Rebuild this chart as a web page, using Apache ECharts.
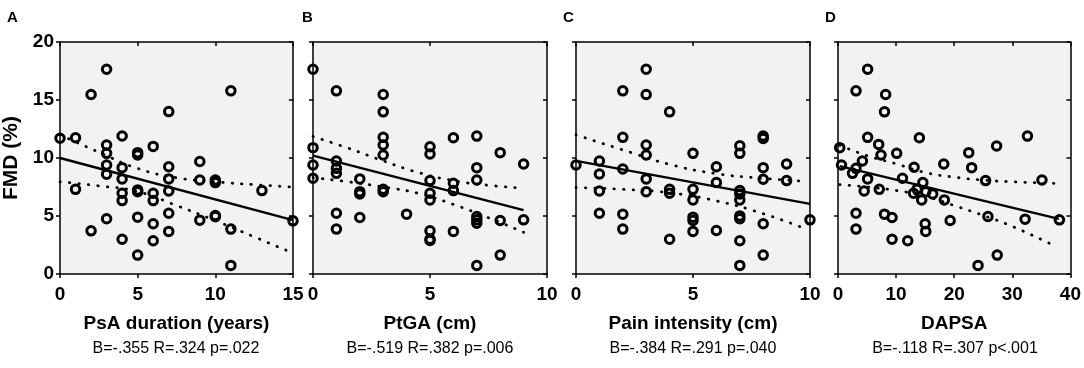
<!DOCTYPE html>
<html>
<head>
<meta charset="utf-8">
<script src="https://cdn.jsdelivr.net/npm/echarts@6/dist/echarts.min.js"></script>
<style>
  html, body { margin: 0; padding: 0; background: #fff; }
  #chart { width: 1084px; height: 368px; }
</style>
</head>
<body>
<div id="chart"></div>
<script>
// FMD (%) against four clinical measures, each point = one patient
const durationPts = [[0,11.7],[1,11.75],[1,7.3],[2,3.72],[2,15.47],[3,17.65],[3,11.12],[3,10.4],[3,9.4],[3,8.6],[3,4.76],
  [4,11.9],[4,9.17],[4,8.2],[4,6.96],[4,6.33],[4,3.0],[5,10.46],[5,10.26],[5,7.25],[5,7.1],[5,4.9],[5,1.63],
  [6,11.0],[6,6.96],[6,6.33],[6,4.33],[6,2.87],[7,14.0],[7,9.25],[7,8.2],[7,7.16],[7,5.24],[7,3.67],
  [9,9.7],[9,8.1],[9,4.64],[10,8.1],[10,7.88],[10,5.04],[10,4.95],[11,15.79],[11,3.87],[11,0.74],[13,7.19],[15,4.58]]
const ptgaPts = [[0,17.65],[0,10.89],[0,9.4],[0,8.25],[1,15.79],[1,9.74],[1,9.11],[1,8.68],[1,5.24],[1,3.87],
  [2,8.2],[2,7.1],[2,6.9],[2,4.87],[3,15.47],[3,13.98],[3,11.78],[3,11.12],[3,10.26],[3,7.3],[3,7.1],[4,5.16],
  [5,10.97],[5,10.34],[5,8.05],[5,6.96],[5,6.39],[5,3.72],[5,3.0],[5,2.89],[6,11.75],[6,7.82],[6,7.19],[6,3.67],
  [7,11.89],[7,9.17],[7,8.1],[7,4.96],[7,4.67],[7,4.38],[7,0.74],[8,10.46],[8,4.61],[8,1.63],[9,9.48],[9,4.67]]
const painPts = [[0,9.4],[1,9.74],[1,8.62],[1,7.16],[1,5.24],[2,15.79],[2,11.78],[2,9.05],[2,5.16],[2,3.87],
  [3,17.65],[3,15.47],[3,11.12],[3,10.26],[3,8.2],[3,7.1],[4,13.98],[4,7.3],[4,6.96],[4,3.0],
  [5,10.4],[5,7.3],[5,6.39],[5,4.9],[5,4.61],[5,3.67],[6,9.25],[6,7.88],[6,3.75],
  [7,11.06],[7,10.4],[7,7.19],[7,6.9],[7,6.39],[7,5.01],[7,4.76],[7,2.87],[7,0.74],
  [8,11.89],[8,11.69],[8,9.17],[8,8.17],[8,4.33],[8,1.63],[9,9.48],[9,8.05],[10,4.67]]
const dapsaPts = [[0.3,10.89],[0.6,9.4],[2.5,8.68],[3.1,15.79],[3.1,9.11],[3.1,5.24],[3.1,3.87],[4.2,9.74],[4.5,7.16],
  [5.1,17.65],[5.1,11.78],[5.1,8.2],[7.0,11.17],[7.1,7.3],[7.4,10.26],[8.0,5.16],[8.0,13.98],[8.2,15.47],
  [9.3,4.87],[9.3,3.0],[10.1,10.4],[11.1,8.25],[12.0,2.87],[13.0,6.96],[13.1,9.2],[13.6,7.3],[14.0,11.75],
  [14.4,6.39],[14.6,7.88],[15.0,4.33],[15.1,3.67],[15.1,7.1],[16.3,6.9],[18.2,9.48],[18.3,6.39],[19.3,4.61],
  [22.5,10.46],[23.0,9.17],[24.1,0.74],[25.4,8.05],[25.8,4.96],[27.3,11.03],[27.4,1.63],[32.2,4.73],
  [32.6,11.89],[35.1,8.1],[38.1,4.67]]

// regression lines and 95% bands
const durationFit = [[0,10.0],[15,4.65]]
const durationUp = [[0,12.0],[2.5,10.5],[5,9.1],[7.5,8.3],[10,7.95],[12.5,7.7],[15,7.5]]
const durationLo = [[0,7.95],[2.5,7.6],[5,7.1],[7.5,5.9],[10,4.6],[12.5,3.2],[15,1.8]]
const ptgaFit = [[0,10.2],[9,5.5]]
const ptgaUp = [[0,11.85],[1.5,10.85],[3,9.75],[4.5,8.75],[6,8.05],[7.5,7.65],[9,7.4]]
const ptgaLo = [[0,8.3],[1.5,7.95],[3,7.5],[4.5,6.95],[6,6.0],[7.5,4.85],[9,3.6]]
const painFit = [[0,9.75],[10,6.05]]
const painUp = [[0,12.0],[2,10.7],[4,9.45],[6,8.65],[8,8.25],[9.8,8.0]]
const painLo = [[0,7.45],[2,7.3],[4,7.0],[6,6.3],[8,5.2],[9.8,3.9]]
const dapsaFit = [[0.3,9.3],[38,4.75]]
const dapsaUp = [[0.3,11.1],[5,10.2],[10,9.5],[15,8.75],[20,8.35],[25,8.1],[30,7.95],[38,7.8]]
const dapsaLo = [[0.3,7.7],[5,7.5],[10,7.2],[15,6.7],[20,5.9],[25,5.05],[30,4.1],[37,2.5]]

const xNames = ['PsA duration (years)', 'PtGA (cm)', 'Pain intensity (cm)', 'DAPSA']
const xMax = [15, 10, 10, 40]
const xStep = [5, 5, 5, 10]
const stats = ['B=-.355 R=.324 p=.022', 'B=-.519 R=.382 p=.006', 'B=-.384 R=.291 p=.040', 'B=-.118 R=.307 p<.001']
const letters = ['A', 'B', 'C', 'D']

const panels = [
  { pts: durationPts, fit: durationFit, up: durationUp, lo: durationLo },
  { pts: ptgaPts, fit: ptgaFit, up: ptgaUp, lo: ptgaLo },
  { pts: painPts, fit: painFit, up: painUp, lo: painLo },
  { pts: dapsaPts, fit: dapsaFit, up: dapsaUp, lo: dapsaLo }
]

const FONT = '"Liberation Sans", Arial, sans-serif'
const lefts = [59, 313, 576, 838]
const letterX = [7, 302, 563, 825]
const W = 234
const TOP = 42
const H = 232

const grid = []
const xAxis = []
const yAxis = []
const series = []
const graphic = []

const lineAx = { show: true, onZero: false, lineStyle: { color: '#000', width: 1.5 } }

panels.forEach((p, i) => {
  grid.push({ left: lefts[i], top: TOP, width: W, height: H, show: true, backgroundColor: '#f2f2f2', borderWidth: 0 })
  // bottom x axis with labels
  xAxis.push({
    type: 'value', gridIndex: i, position: 'bottom', min: 0, max: xMax[i], interval: xStep[i],
    axisLine: lineAx, splitLine: { show: false },
    axisTick: { show: true, length: 4, lineStyle: { color: '#000', width: 1.5 } },
    axisLabel: { color: '#000', fontFamily: FONT, fontWeight: 'bold', fontSize: 19, margin: 11 },
    name: xNames[i], nameLocation: 'middle', nameGap: 40,
    nameTextStyle: { color: '#000', fontFamily: FONT, fontWeight: 'bold', fontSize: 19 }
  })
  // top frame
  xAxis.push({
    type: 'value', gridIndex: i, position: 'top', min: 0, max: xMax[i], interval: xStep[i],
    axisLine: lineAx, splitLine: { show: false }, axisLabel: { show: false },
    axisTick: { show: true, inside: true, length: 4, lineStyle: { color: '#000', width: 1.5 } }
  })
  yAxis.push({
    type: 'value', gridIndex: i, position: 'left', min: 0, max: 20, interval: 5,
    axisLine: lineAx, splitLine: { show: false },
    axisTick: { show: true, length: 4, lineStyle: { color: '#000', width: 1.5 } },
    axisLabel: { show: i === 0, color: '#000', fontFamily: FONT, fontWeight: 'bold', fontSize: 19, margin: 6 },
    name: i === 0 ? 'FMD (%)' : '', nameLocation: 'middle', nameGap: 38,
    nameTextStyle: { color: '#000', fontFamily: FONT, fontWeight: 'bold', fontSize: 21 }
  })
  yAxis.push({
    type: 'value', gridIndex: i, position: 'right', min: 0, max: 20, interval: 5,
    axisLine: lineAx, splitLine: { show: false }, axisLabel: { show: false },
    axisTick: { show: true, inside: true, length: 4, lineStyle: { color: '#000', width: 1.5 } }
  })

  const xi = 2 * i
  const yi = 2 * i
  const dotted = { color: '#000', width: 2.8, type: [0.5, 9], cap: 'round' }
  series.push({
    type: 'line', xAxisIndex: xi, yAxisIndex: yi, data: p.up, smooth: true, symbol: 'none',
    lineStyle: dotted, z: 2, silent: true
  })
  series.push({
    type: 'line', xAxisIndex: xi, yAxisIndex: yi, data: p.lo, smooth: true, symbol: 'none',
    lineStyle: dotted, z: 2, silent: true
  })
  series.push({
    type: 'line', xAxisIndex: xi, yAxisIndex: yi, data: p.fit, symbol: 'none',
    lineStyle: { color: '#000', width: 2.4 }, z: 3, silent: true
  })
  series.push({
    type: 'scatter', xAxisIndex: xi, yAxisIndex: yi, data: p.pts, symbol: 'circle', symbolSize: 8.5,
    itemStyle: { color: 'rgba(0,0,0,0)', borderColor: '#000', borderWidth: 3, opacity: 1 }, z: 4
  })

  const cx = lefts[i] + W / 2
  graphic.push({
    type: 'text', x: cx, y: 349,
    style: { text: stats[i], fill: '#000', font: '16px ' + FONT, textAlign: 'center', textVerticalAlign: 'middle' }
  })
  graphic.push({
    type: 'text', x: letterX[i], y: 18,
    style: { text: letters[i], fill: '#000', font: 'bold 15px ' + FONT, textAlign: 'left', textVerticalAlign: 'middle' }
  })
})

const chart = echarts.init(document.getElementById('chart'))
chart.setOption({
  animation: false,
  grid, xAxis, yAxis, series, graphic
})
</script>
</body>
</html>
